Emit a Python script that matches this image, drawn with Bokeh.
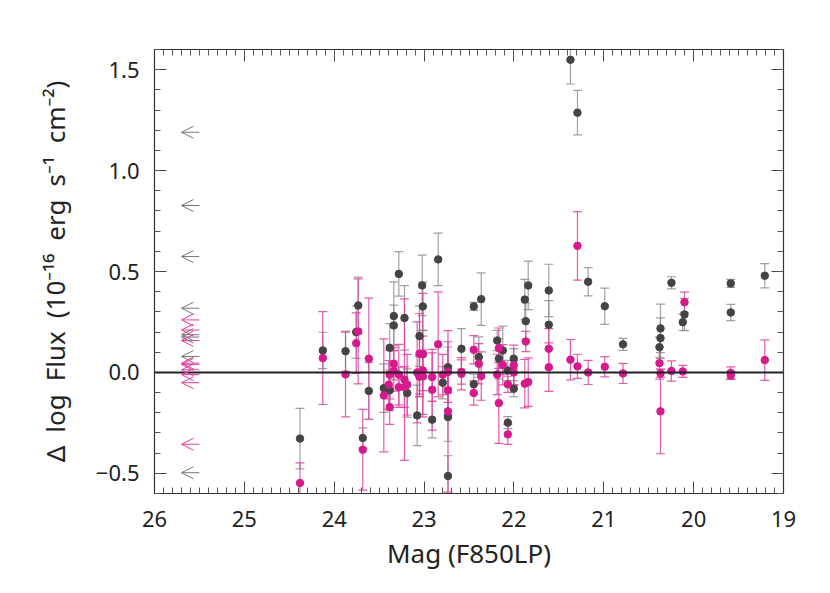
from bokeh.plotting import figure
from bokeh.models import (ColumnDataSource, Whisker, TeeHead, Range1d, Span, LinearAxis,
                          Arrow, OpenHead, SingleIntervalTicker)
from bokeh.embed import file_html
from bokeh.resources import INLINE

# ---------------- data ----------------
gray_mag = [24.381, 24.127, 23.874, 23.733, 23.755, 23.682, 23.615, 23.281, 23.337, 23.337,
            23.382, 23.448, 23.382, 23.218, 23.188, 23.021, 23.014, 22.843, 23.051, 23.014,
            23.077, 23.051, 22.910, 22.792, 22.734, 22.734, 22.734, 22.584, 22.447, 22.364,
            22.391, 22.447, 22.186, 22.168, 22.124, 22.068, 22.068, 22.002, 22.002, 21.879,
            21.841, 21.868, 21.612, 21.612, 21.371, 21.293, 21.174, 20.989, 20.786, 20.369,
            20.369, 20.380, 20.247, 20.121, 20.102, 19.587, 19.587, 19.208]
gray_val = [-0.328, 0.109, 0.105, 0.332, 0.200, -0.325, -0.092, 0.488, 0.279, 0.233,
            0.122, -0.078, -0.089, 0.270, -0.102, 0.431, 0.327, 0.560, 0.180, 0.090,
            -0.213, -0.020, -0.234, -0.051, 0.026, -0.221, -0.513, 0.117, 0.327, 0.363,
            0.076, -0.059, 0.158, 0.068, 0.109, 0.010, -0.249, 0.068, -0.081, 0.361,
            0.431, 0.254, 0.406, 0.236, 1.549, 1.287, 0.449, 0.328, 0.139, 0.218,
            0.170, 0.125, 0.444, 0.249, 0.287, 0.441, 0.297, 0.479]
gray_err = [0.15, 0.09, 0.10, 0.14, 0.13, 0.05, 0.14, 0.11, 0.17, 0.10,
            0.12, 0.12, 0.10, 0.16, 0.12, 0.15, 0.12, 0.13, 0.15, 0.12,
            0.15, 0.10, 0.09, 0.08, 0.10, 0.12, 0.10, 0.10, 0.02, 0.13,
            0.10, 0.05, 0.05, 0.10, 0.12, 0.05, 0.03, 0.05, 0.04, 0.10,
            0.12, 0.09, 0.13, 0.12, 0.12, 0.11, 0.07, 0.09, 0.03, 0.12,
            0.10, 0.05, 0.03, 0.04, 0.08, 0.02, 0.04, 0.06]

pink_mag = [24.381, 24.127, 23.874, 23.733, 23.755, 23.615, 23.682, 23.337, 23.337, 23.382,
            23.448, 23.393, 23.382, 23.281, 23.281, 23.218, 23.218, 23.188, 23.051, 23.014,
            23.077, 23.051, 23.014, 23.014, 22.843, 22.910, 22.910, 22.792, 22.734, 22.734,
            22.734, 22.584, 22.584, 22.447, 22.391, 22.364, 22.447, 22.168, 22.124, 22.186,
            22.168, 22.068, 22.068, 22.002, 22.002, 21.868, 21.879, 21.841, 21.612, 21.612,
            21.371, 21.293, 21.293, 21.174, 20.989, 20.786, 20.380, 20.369, 20.369, 20.247,
            20.102, 20.121, 19.587, 19.587, 19.208]
pink_val = [-0.548, 0.071, -0.010, 0.203, 0.145, 0.068, -0.383, 0.043, 0.007, -0.011,
            -0.114, -0.061, -0.172, -0.011, -0.073, -0.036, -0.073, -0.061, 0.092, 0.092,
            0.000, -0.020, 0.010, -0.020, 0.139, -0.023, -0.086, -0.011, 0.002, -0.089,
            -0.193, -0.007, 0.002, 0.112, 0.043, -0.018, -0.102, 0.120, 0.038, -0.010,
            -0.152, -0.059, -0.307, 0.035, 0.000, 0.153, -0.056, -0.048, 0.117, 0.026,
            0.063, 0.627, 0.030, 0.000, 0.028, -0.005, 0.046, -0.005, -0.193, 0.007,
            0.348, 0.005, -0.003, -0.015, 0.061]
pink_err = [0.10, 0.23, 0.21, 0.26, 0.15, 0.30, 0.20, 0.08, 0.10, 0.12,
            0.28, 0.12, 0.085, 0.15, 0.10, 0.40, 0.10, 0.15, 0.20, 0.30,
            0.25, 0.10, 0.10, 0.20, 0.26, 0.12, 0.20, 0.10, 0.15, 0.12,
            0.40, 0.08, 0.06, 0.07, 0.10, 0.12, 0.06, 0.10, 0.10, 0.10,
            0.20, 0.04, 0.05, 0.10, 0.06, 0.05, 0.12, 0.12, 0.10, 0.12,
            0.10, 0.17, 0.06, 0.06, 0.05, 0.05, 0.08, 0.02, 0.21, 0.05,
            0.05, 0.03, 0.03, 0.02, 0.10]

# limits (shown as left-pointing arrows at the faint end)
limit_mag = 25.6
gray_limits = [1.19, 0.827, 0.574, 0.318, 0.187, 0.175, 0.079, -0.497]
pink_limits = [0.26, 0.21, 0.158, 0.046, 0.040, 0.013, -0.011, -0.051, -0.356]

x_ticks = [26, 25, 24, 23, 22, 21, 20, 19]
y_ticks = [-0.5, 0.0, 0.5, 1.0, 1.5]

# ---------------- styles ----------------
GRAY_PT = "#444444"
GRAY_BAR = "#8a8a8a"
PINK_PT = "#d6198c"
PINK_BAR = "#e0409c"
FONT = "Noto Sans"
TXT = "#222222"

p = figure(width=814, height=577, output_backend="svg", toolbar_location=None,
           x_range=Range1d(26, 19), y_range=Range1d(-0.6, 1.6),
           frame_width=629, frame_height=444,
           min_border_left=154, min_border_top=49, min_border_right=31, min_border_bottom=84)
p.grid.visible = False
p.outline_line_color = "#333333"
p.outline_line_width = 1.2
p.background_fill_color = "white"
p.border_fill_color = "white"

def style_axis(ax, labels=True):
    ax.major_tick_in = 12
    ax.major_tick_out = 0
    ax.minor_tick_in = 6
    ax.minor_tick_out = 0
    ax.axis_line_color = "#333333"
    ax.major_tick_line_color = "#444444"
    ax.minor_tick_line_color = "#555555"
    ax.major_label_text_font = FONT
    ax.major_label_text_font_size = "22px"
    ax.major_label_text_color = TXT
    ax.axis_label_text_font = FONT
    ax.axis_label_text_font_size = "26px"
    ax.axis_label_text_color = TXT
    ax.axis_label_text_font_style = "normal"
    if not labels:
        ax.major_label_text_alpha = 0
        ax.major_label_text_font_size = "1px"

p.xaxis.ticker = SingleIntervalTicker(interval=1, num_minor_ticks=10)
p.yaxis.ticker = SingleIntervalTicker(interval=0.5, num_minor_ticks=5)
p.xaxis.major_label_overrides = {v: str(v) for v in x_ticks}
p.yaxis.major_label_overrides = {v: ("\u2212" + f"{abs(v):.1f}" if v < 0 else f"{v:.1f}") for v in y_ticks}
for ax in p.xaxis + p.yaxis:
    style_axis(ax)
p.xaxis.axis_label = "Mag (F850LP)"
SP = "\u2002"
p.yaxis.axis_label = SP.join(["\u0394", "log", "Flux", "(10\u207b\u00b9\u2076", "erg",
                              "s\u207b\u00b9", "cm\u207b\u00b2)"])
p.xaxis.major_label_standoff = 17
p.yaxis.major_label_standoff = 15
p.xaxis.axis_label_standoff = 5
p.yaxis.axis_label_standoff = 20

top = LinearAxis(ticker=SingleIntervalTicker(interval=1, num_minor_ticks=10))
right = LinearAxis(ticker=SingleIntervalTicker(interval=0.5, num_minor_ticks=5))
style_axis(top, labels=False)
style_axis(right, labels=False)
p.add_layout(top, "above")
p.add_layout(right, "right")

# zero line
p.add_layout(Span(location=0, dimension="width", line_color="#222222", line_width=2))

def make_src(m, v, e):
    return ColumnDataSource(dict(x=m, y=v,
                                 lo=[a - b for a, b in zip(v, e)],
                                 hi=[a + b for a, b in zip(v, e)]))

gsrc = make_src(gray_mag, gray_val, gray_err)
psrc = make_src(pink_mag, pink_val, pink_err)

def add_bars(src, color, alpha):
    w = Whisker(source=src, base="x", lower="lo", upper="hi", dimension="height",
                line_color=color, line_alpha=alpha, line_width=1.2,
                lower_head=TeeHead(size=9, line_color=color, line_alpha=alpha, line_width=1.2),
                upper_head=TeeHead(size=9, line_color=color, line_alpha=alpha, line_width=1.2))
    p.add_layout(w)

add_bars(gsrc, GRAY_BAR, 0.8)
p.scatter("x", "y", source=gsrc, size=7.5, color=GRAY_PT)
add_bars(psrc, PINK_BAR, 0.85)
p.scatter("x", "y", source=psrc, size=7.5, color=PINK_PT)

# limit arrows
def add_arrows(vals, color):
    src = ColumnDataSource(dict(xs=[limit_mag - 0.1] * len(vals),
                                xe=[limit_mag + 0.1] * len(vals),
                                ys=vals, ye=vals))
    p.add_layout(Arrow(source=src, x_start="xs", y_start="ys", x_end="xe", y_end="ye",
                       line_color=color, line_width=1,
                       end=OpenHead(size=12, line_color=color, line_width=1)))

add_arrows(gray_limits, "#777777")
add_arrows(pink_limits, "#e0409c")

open("out.html", "w").write(file_html(p, INLINE))
